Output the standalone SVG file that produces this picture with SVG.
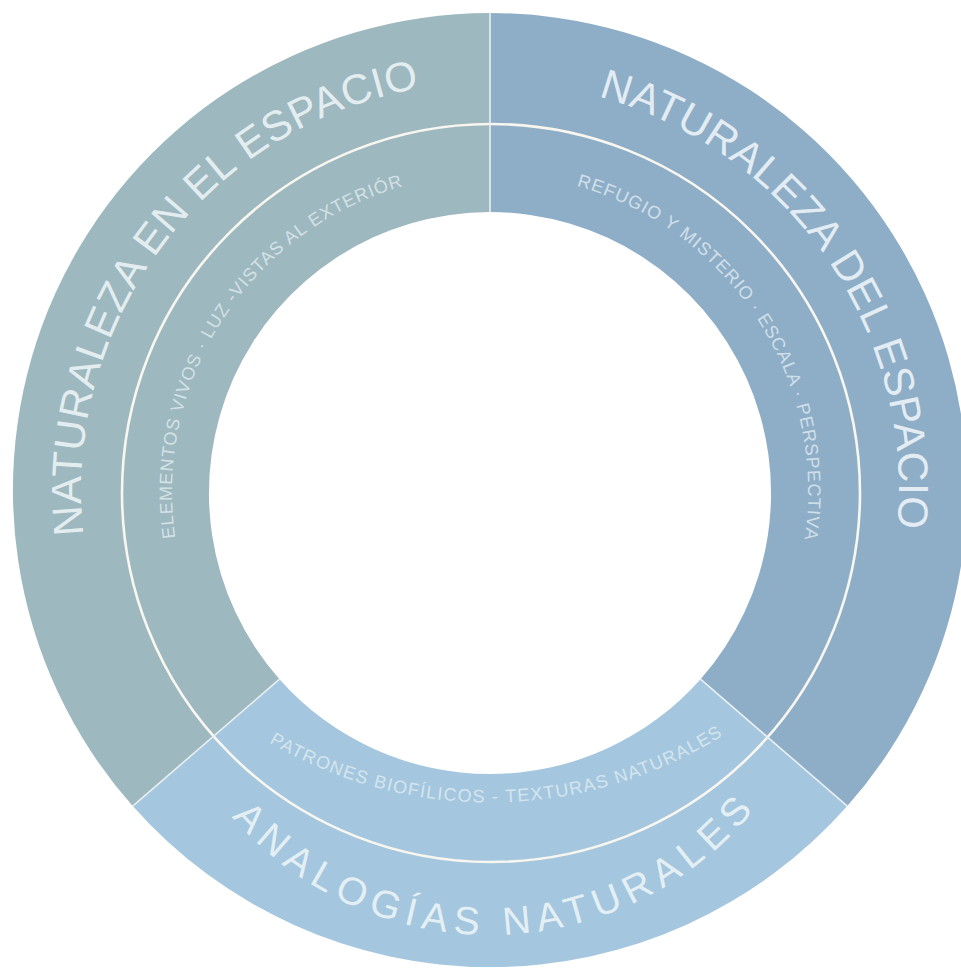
<svg xmlns="http://www.w3.org/2000/svg" width="961" height="974" viewBox="0 0 961 974">
<style>
.outer{font-family:"Liberation Sans",Arial,sans-serif;font-size:42px;fill:#eef5f8;fill-opacity:0.9}
.inner{font-family:"Liberation Sans",Arial,sans-serif;font-size:18px;fill:#e2edf2;fill-opacity:0.8}
.div{stroke:#e9eff1;stroke-width:1.6;fill:none}
</style>
<defs>
<path id="pLeftOuter" d="M190.9,769.9 A409,409 0 0 1 675.7,126.6"/>
<path id="pRightOuter" d="M319.1,119.4 A409,409 0 0 1 777.7,781.7"/>
<path id="pBottomOuter" d="M154.2,653.2 A341,341 0 0 0 825.8,653.2"/>
<path id="pLeftInner" d="M273.1,724.6 A318,318 0 0 1 614.2,199.3"/>
<path id="pRightInner" d="M367.0,198.7 A318,318 0 0 1 705.9,725.5"/>
<path id="pBottomInner" d="M115.0,590.3 A437.5,437.5 0 0 0 872.6,577.1"/>
</defs>
<rect width="961" height="974" fill="#ffffff"/>
<g id="naturaleza-en-el-espacio">
<path d="M132.7,806.1 A477,477 0 0 1 490,13 L490,212 A281,281 0 0 0 279.5,679.2 Z" fill="#9db8bf"/>
<text class="outer" letter-spacing="0.7"><textPath href="#pLeftOuter" startOffset="50%" text-anchor="middle">NATURALEZA EN EL ESPACIO</textPath></text>
<text class="inner" letter-spacing="1.0"><textPath href="#pLeftInner" startOffset="50%" text-anchor="middle">ELEMENTOS VIVOS · LUZ -VISTAS AL EXTERIÓR</textPath></text>
</g>
<g id="naturaleza-del-espacio">
<path d="M490,13 A477,477 0 0 1 847.3,806.1 L700.5,679.2 A281,281 0 0 0 490,212 Z" fill="#8eaec8"/>
<text class="outer" letter-spacing="0.5"><textPath href="#pRightOuter" startOffset="50%" text-anchor="middle">NATURALEZA DEL ESPACIO</textPath></text>
<text class="inner" letter-spacing="1.05"><textPath href="#pRightInner" startOffset="50%" text-anchor="middle">REFUGIO Y MISTERIO · ESCALA · PERSPECTIVA</textPath></text>
</g>
<g id="analogias-naturales">
<path d="M847.3,806.1 A477,477 0 0 1 132.7,806.1 L279.5,679.2 A281,281 0 0 0 700.5,679.2 Z" fill="#a4c7df"/>
<text class="outer" style="font-size:39px" letter-spacing="7"><textPath href="#pBottomOuter" startOffset="50.8%" text-anchor="middle">ANALOGÍAS NATURALES</textPath></text>
<text class="inner" letter-spacing="1.3"><textPath href="#pBottomInner" startOffset="50%" text-anchor="middle">PATRONES BIOFÍLICOS - TEXTURAS NATURALES</textPath></text>
</g>
<g id="connectors">
<circle cx="491" cy="493" r="369" fill="none" stroke="#f8f6ef" stroke-width="2.6"/>
<line class="div" x1="490" y1="13" x2="490" y2="212"/>
<line class="div" x1="132.7" y1="806.1" x2="279.5" y2="679.2"/>
<line class="div" x1="847.3" y1="806.1" x2="700.5" y2="679.2"/>
</g>
</svg>
